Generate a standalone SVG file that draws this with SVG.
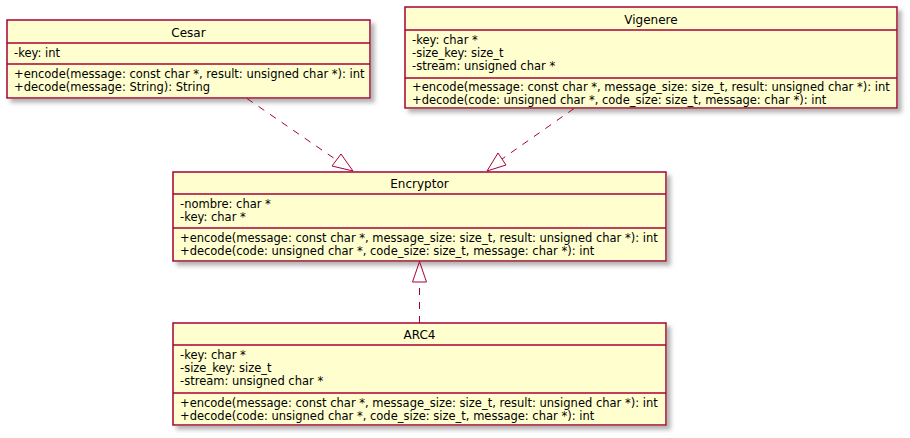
<svg xmlns="http://www.w3.org/2000/svg" width="910" height="438" viewBox="0 0 910 438">
<style>
.box{fill:#FEFECE;stroke:#A80036;stroke-width:1.5;filter:url(#sh)}
.sep{stroke:#A80036;stroke-width:1.5}
.name{font-family:"DejaVu Sans",sans-serif;font-size:12px;fill:#000;text-anchor:middle}
.mem{font-family:"DejaVu Sans",sans-serif;font-size:11.5px;fill:#000}
.edge{fill:none;stroke:#A80036;stroke-width:1;stroke-dasharray:7,7}
.head{fill:none;stroke:#A80036;stroke-width:1}
</style>
<defs>
<filter id="sh" x="-5%" y="-10%" width="115%" height="130%">
<feGaussianBlur in="SourceAlpha" stdDeviation="2"/>
<feOffset dx="4" dy="4" result="b"/>
<feColorMatrix in="b" type="matrix" values="0 0 0 0 0.3  0 0 0 0 0.3  0 0 0 0 0.3  0 0 0 0.7 0" result="s"/>
<feMerge><feMergeNode in="s"/><feMergeNode in="SourceGraphic"/></feMerge>
</filter>
</defs>
<g id="Cesar">
<rect class="box" x="7" y="20" width="363" height="78"/>
<line class="sep" x1="7" y1="43" x2="370" y2="43"/>
<line class="sep" x1="7" y1="64" x2="370" y2="64"/>
<text class="name" x="188.5" y="36.5">Cesar</text>
<text class="mem" x="14" y="57">-key: int</text>
<text class="mem" x="14" y="78">+encode(message: const char *, result: unsigned char *): int</text>
<text class="mem" x="14" y="91">+decode(message: String): String</text>
</g>
<g id="Vigenere">
<rect class="box" x="405" y="7" width="492" height="101"/>
<line class="sep" x1="405" y1="30" x2="897" y2="30"/>
<line class="sep" x1="405" y1="78" x2="897" y2="78"/>
<text class="name" x="651" y="24">Vigenere</text>
<text class="mem" x="412" y="44">-key: char *</text>
<text class="mem" x="412" y="57">-size_key: size_t</text>
<text class="mem" x="412" y="70">-stream: unsigned char *</text>
<text class="mem" x="412" y="91">+encode(message: const char *, message_size: size_t, result: unsigned char *): int</text>
<text class="mem" x="412" y="104">+decode(code: unsigned char *, code_size: size_t, message: char *): int</text>
</g>
<g id="Encryptor">
<rect class="box" x="173" y="172" width="493" height="89"/>
<line class="sep" x1="173" y1="194" x2="666" y2="194"/>
<line class="sep" x1="173" y1="228" x2="666" y2="228"/>
<text class="name" x="419.5" y="188">Encryptor</text>
<text class="mem" x="180" y="208">-nombre: char *</text>
<text class="mem" x="180" y="221">-key: char *</text>
<text class="mem" x="180" y="242">+encode(message: const char *, message_size: size_t, result: unsigned char *): int</text>
<text class="mem" x="180" y="255">+decode(code: unsigned char *, code_size: size_t, message: char *): int</text>
</g>
<g id="ARC4">
<rect class="box" x="173" y="323" width="493" height="102"/>
<line class="sep" x1="173" y1="345" x2="666" y2="345"/>
<line class="sep" x1="173" y1="393" x2="666" y2="393"/>
<text class="name" x="419.5" y="339">ARC4</text>
<text class="mem" x="180" y="359">-key: char *</text>
<text class="mem" x="180" y="372">-size_key: size_t</text>
<text class="mem" x="180" y="385">-stream: unsigned char *</text>
<text class="mem" x="180" y="407">+encode(message: const char *, message_size: size_t, result: unsigned char *): int</text>
<text class="mem" x="180" y="420">+decode(code: unsigned char *, code_size: size_t, message: char *): int</text>
</g>
<g id="connectors">
<path class="edge" d="M247,98.5 L336.5,160"/>
<polygon class="head" points="353,171 332,166 341,154"/>
<path class="edge" d="M574,108.5 L502,159"/>
<polygon class="head" points="487,171 498,153 506,165"/>
<path class="edge" d="M419.5,323 L419.5,282"/>
<polygon class="head" points="419.5,261.5 412.5,282 426.5,282"/>
</g>
</svg>
